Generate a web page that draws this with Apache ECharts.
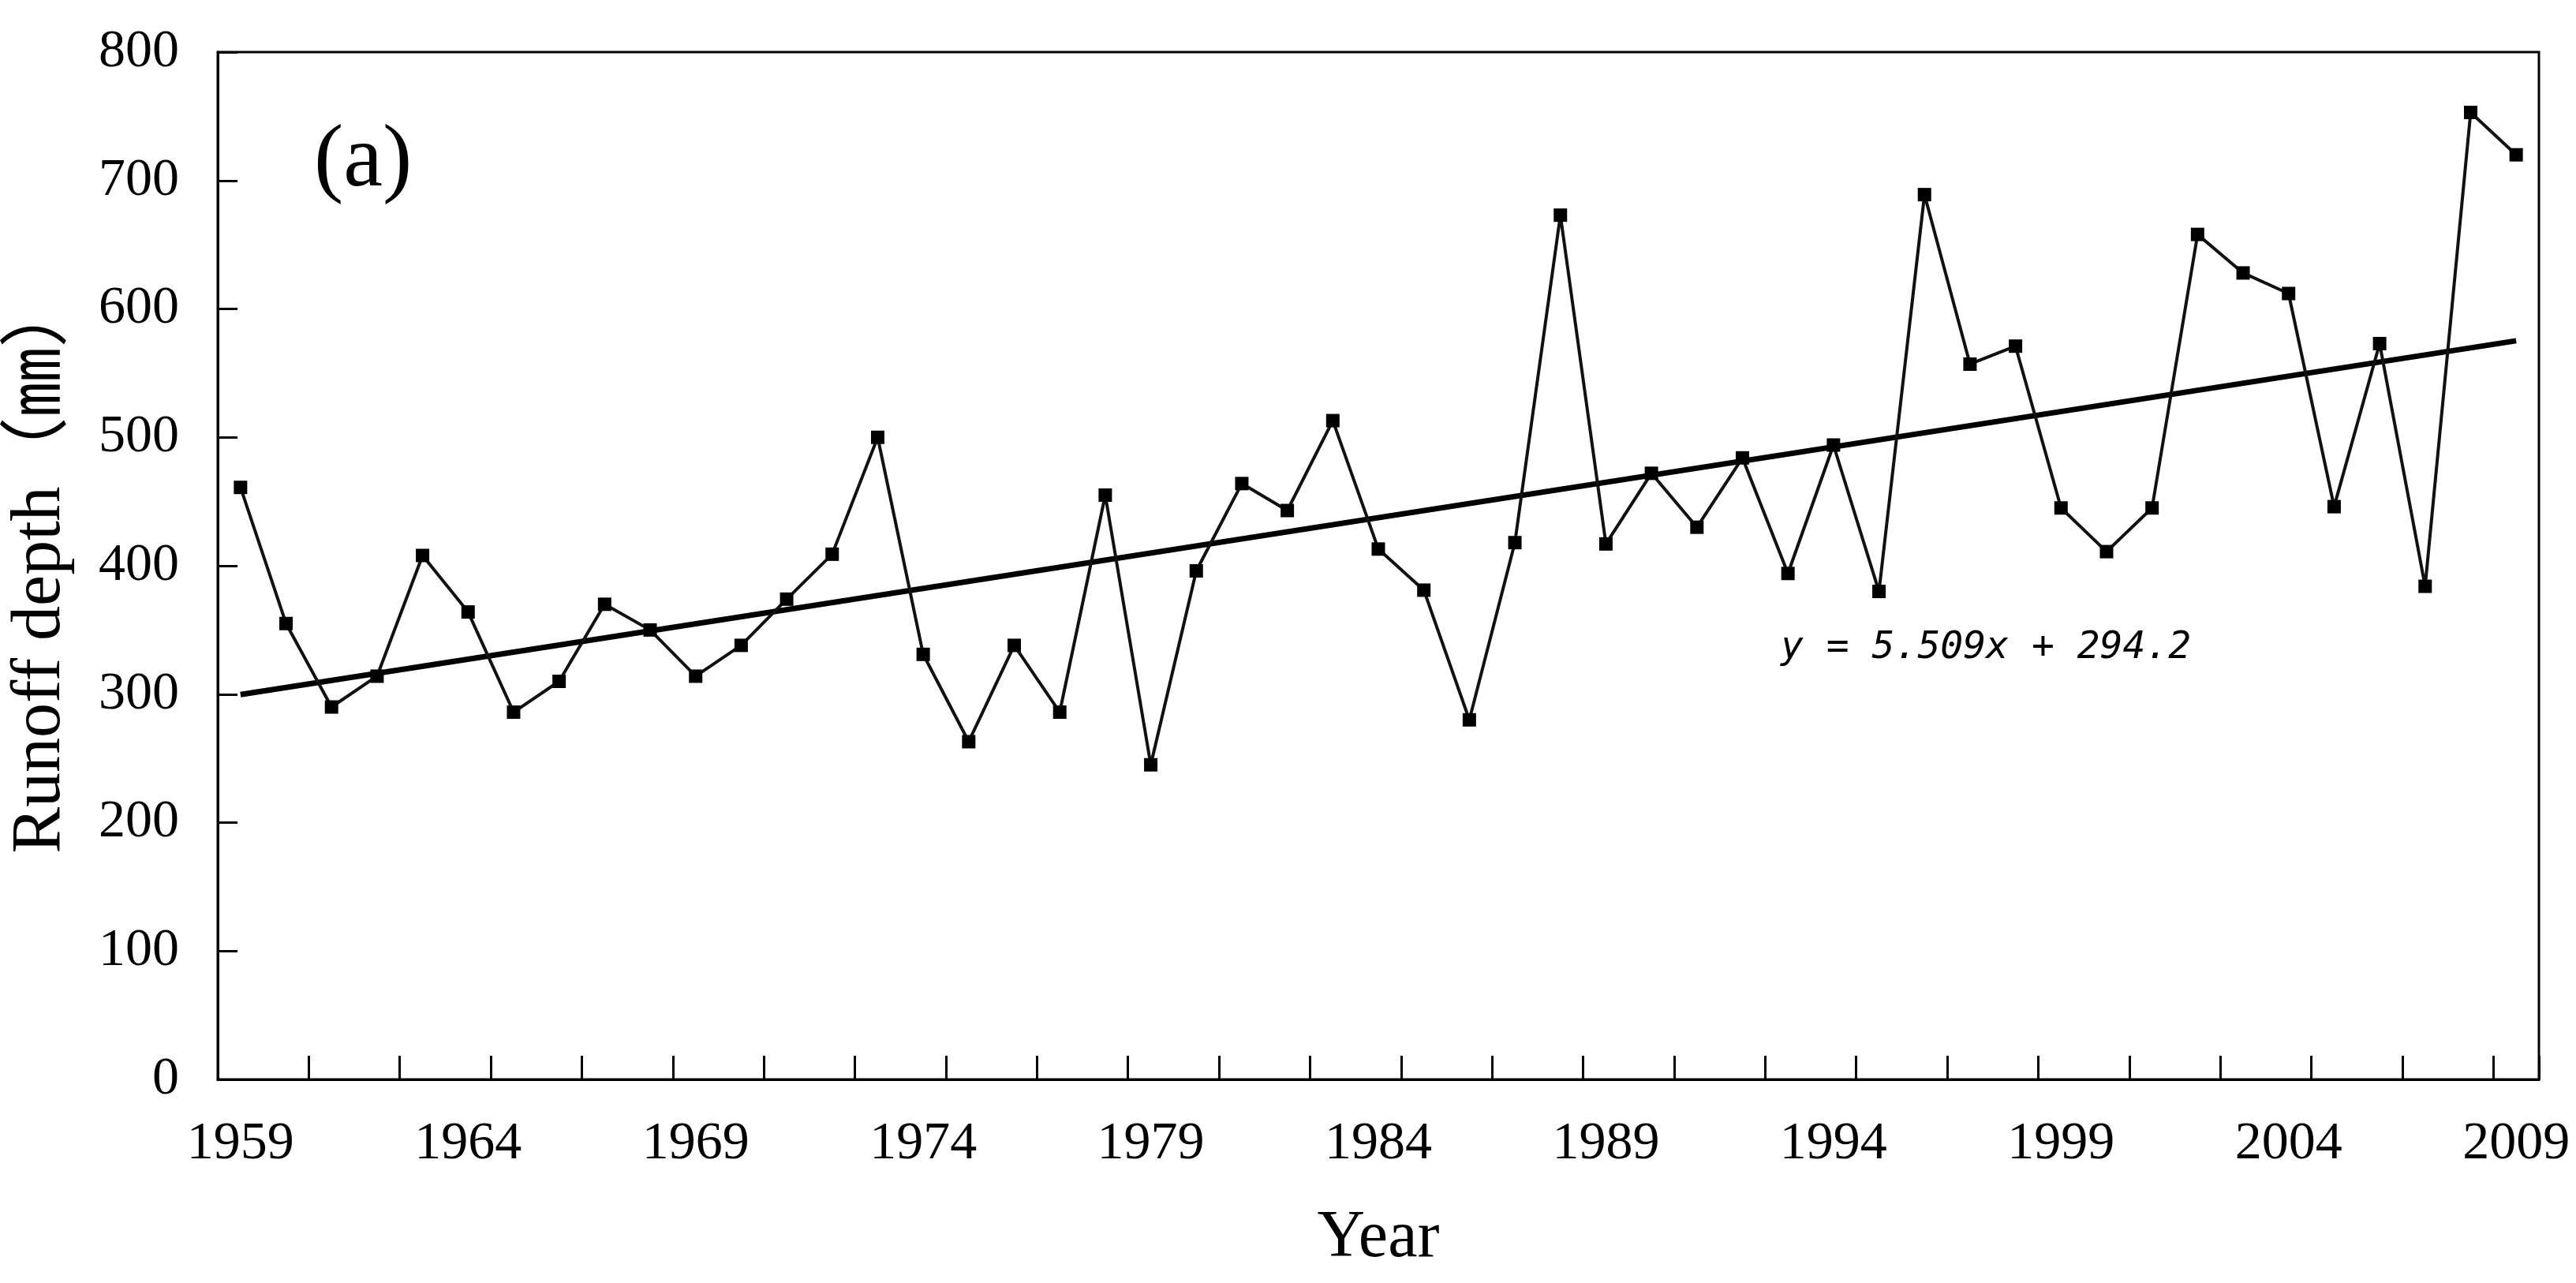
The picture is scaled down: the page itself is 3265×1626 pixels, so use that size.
<!DOCTYPE html>
<html>
<head>
<meta charset="utf-8">
<script src="https://cdn.jsdelivr.net/npm/echarts@6/dist/echarts.min.js"></script>
<style>
  html, body { margin: 0; padding: 0; background: #fff; }
  #main { width: 3265px; height: 1626px; }
</style>
</head>
<body>
<div id="main"></div>
<script>
// yearly runoff depth
var years = ['1959', '1960', '1961', '1962', '1963', '1964', '1965', '1966', '1967', '1968',
  '1969', '1970', '1971', '1972', '1973', '1974', '1975', '1976', '1977', '1978',
  '1979', '1980', '1981', '1982', '1983', '1984', '1985', '1986', '1987', '1988',
  '1989', '1990', '1991', '1992', '1993', '1994', '1995', '1996', '1997', '1998',
  '1999', '2000', '2001', '2002', '2003', '2004', '2005', '2006', '2007', '2008', '2009'];
var runoff = [461, 355, 290, 314, 408, 364, 286, 310, 370, 350,
  314, 338, 374, 409, 500, 331, 263, 338, 286, 455,
  245, 396, 464, 443, 513, 413, 381, 280, 418, 673,
  417, 472, 430, 484, 394, 494, 380, 689, 557, 571,
  445, 411, 445, 658, 628, 612, 446, 573, 384, 753, 720];
// linear trend, end points (y = 5.509x + 294.2)
var trendYears = ['1959', '2009'];
var trendValues = [299.7, 575.2];
var trendLabel = 'y = 5.509x + 294.2';
var yMin = 0, yMax = 800, yStep = 100;

var serif = '"Liberation Serif", "Noto Sans CJK SC", serif';

var chart = echarts.init(document.getElementById('main'));
var option = {
  backgroundColor: '#fff',
  animation: false,
  grid: {
    left: 263,
    right: 47,
    top: 66,
    bottom: 258,
    show: true,
    borderColor: '#000',
    borderWidth: 3
  },
  xAxis: {
    type: 'category',
    data: years,
    boundaryGap: true,
    name: 'Year',
    nameLocation: 'middle',
    nameGap: 160,
    nameTextStyle: {fontFamily: serif, fontSize: 84, color: '#000'},
    axisLine: {lineStyle: {color: '#000', width: 3}},
    axisTick: {show: true, inside: true, interval: 1, length: 30, lineStyle: {color: '#000', width: 3}},
    axisLabel: {interval: 4, margin: 48, fontFamily: serif, fontSize: 68, color: '#000'},
    splitLine: {show: false}
  },
  yAxis: {
    type: 'value',
    min: yMin,
    max: yMax,
    interval: yStep,
    name: 'Runoff depth（㎜）',
    nameLocation: 'middle',
    nameRotate: 90,
    nameGap: 180,
    nameTextStyle: {fontFamily: serif, fontSize: 88, color: '#000'},
    axisLine: {show: true, lineStyle: {color: '#000', width: 3}},
    axisTick: {show: true, inside: true, length: 25, lineStyle: {color: '#000', width: 3}},
    axisLabel: {margin: 49, fontFamily: serif, fontSize: 68, color: '#000'},
    splitLine: {show: false}
  },
  graphic: [
    {
      type: 'text',
      left: 398,
      top: 150,
      style: {text: '(a)', font: '112px "Liberation Serif", serif', fill: '#000'}
    },
    {
      type: 'text',
      left: 2257,
      top: 798,
      style: {text: trendLabel, font: 'italic 48px "DejaVu Sans Mono", monospace', fill: '#000'}
    }
  ],
  series: [
    {
      name: 'Runoff',
      type: 'line',
      data: runoff,
      symbol: 'rect',
      symbolSize: 17,
      itemStyle: {color: '#000'},
      lineStyle: {color: '#111', width: 4},
      z: 3
    },
    {
      name: 'Trend',
      type: 'line',
      data: [[trendYears[0], trendValues[0]], [trendYears[1], trendValues[1]]],
      symbol: 'none',
      lineStyle: {color: '#000', width: 7},
      z: 2
    }
  ]
};
chart.setOption(option);
</script>
</body>
</html>
